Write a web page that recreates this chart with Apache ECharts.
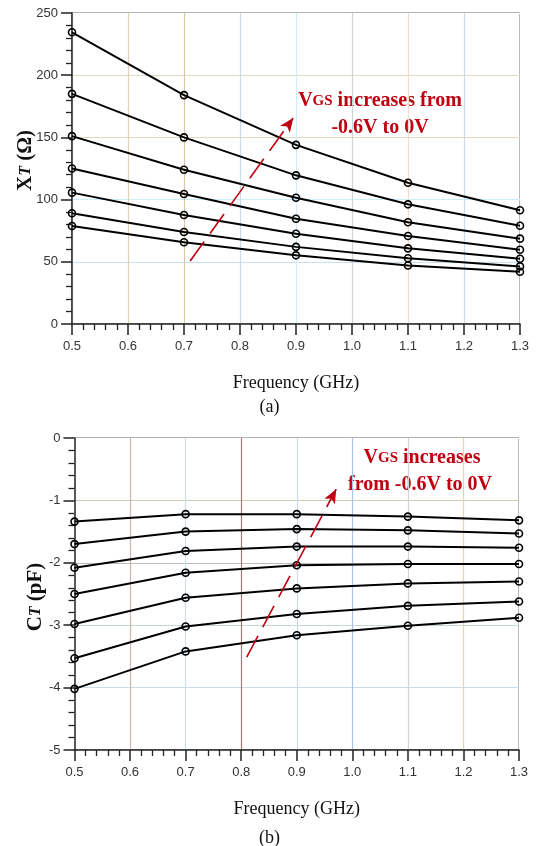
<!DOCTYPE html>
<html>
<head>
<meta charset="utf-8">
<title>XT and CT vs frequency</title>
<script src="https://cdn.jsdelivr.net/npm/echarts@6/dist/echarts.min.js"></script>
<style>
html,body{margin:0;padding:0;background:#fff;}
#chart{width:539px;height:846px;}
</style>
</head>
<body>
<div id="chart"></div>
<script type="text/javascript">
// frequency points (GHz)
var freq = [0.5, 0.7, 0.9, 1.1, 1.3];

// (a) XT in ohm, top curve = VGS 0V ... bottom = -0.6V
var xt1 = [234.5, 184, 144, 113.6, 91.4];
var xt2 = [185, 150, 119.5, 96.2, 79];
var xt3 = [151, 124, 101.5, 81.8, 68.6];
var xt4 = [125, 104.5, 84.6, 70.7, 59.7];
var xt5 = [105.6, 87.6, 72.6, 60.8, 52.5];
var xt6 = [89, 74, 62, 52.8, 46.3];
var xt7 = [78.8, 65.7, 55.2, 47, 42];

// (b) CT in pF
var ct1 = [-1.34, -1.22, -1.22, -1.26, -1.32];
var ct2 = [-1.70, -1.50, -1.46, -1.48, -1.53];
var ct3 = [-2.08, -1.81, -1.74, -1.74, -1.76];
var ct4 = [-2.50, -2.16, -2.04, -2.02, -2.02];
var ct5 = [-2.98, -2.56, -2.41, -2.33, -2.30];
var ct6 = [-3.53, -3.02, -2.82, -2.69, -2.62];
var ct7 = [-4.02, -3.42, -3.16, -3.01, -2.88];

// arrow ends (data coords)
var arrowA = [[0.711, 50.6], [0.895, 165.6]];
var arrowB = [[0.81, -3.51], [0.971, -0.82]];

var red = '#c00010';
var serif = 'Liberation Serif';
var sans = 'Liberation Sans';

function pairs(ys){
    var out = [];
    for(var i=0;i<freq.length;i++) out.push([freq[i], ys[i]]);
    return out;
}

function mkSeries(ys, idx){
    return {
        type:'line',
        xAxisIndex: idx, yAxisIndex: idx,
        data: pairs(ys),
        symbol:'circle', symbolSize:7,
        lineStyle:{color:'#000', width:2},
        itemStyle:{color:'rgba(0,0,0,0)', borderColor:'#000', borderWidth:1.6},
        emphasis:{disabled:true},
        silent:true, z:3
    };
}

function arrowLine(pts){
    return {
        silent:true,
        symbol:['none','arrow'],
        symbolSize:[9,14],
        lineStyle:{color:red, width:1.6, type:[24,10]},
        label:{show:false},
        data:[[{coord:pts[0]},{coord:pts[1]}]]
    };
}

function xAx(gi, vColors){
    return {
        type:'value', gridIndex:gi, min:0.5, max:1.3, interval:0.1,
        axisLine:{show:true, onZero:false, lineStyle:{color:'#222', width:1.5}},
        axisTick:{show:true, length:11, lineStyle:{color:'#222', width:1.5}},
        minorTick:{show:true, splitNumber:5, length:6, lineStyle:{color:'#222', width:1.3}},
        axisLabel:{margin:16, fontFamily:sans, fontSize:13, color:'#333',
                   formatter:function(v){return v.toFixed(1);}},
        splitLine:{show:true, lineStyle:{color:vColors, width:1.2}},
        name:'Frequency (GHz)', nameLocation:'middle', nameGap:50, nameMoveOverlap:false,
        nameTextStyle:{fontFamily:serif, fontSize:18, color:'#111'}
    };
}

function yName(text, gap, pad){
    return {
        name:text, nameLocation:'middle', nameGap:gap, nameRotate:90, nameMoveOverlap:false,
        nameTextStyle:{padding:pad, rich:{
            b:{fontFamily:serif, fontSize:21, fontWeight:'bold', color:'#111'},
            i:{fontFamily:serif, fontSize:16, fontWeight:'bold', fontStyle:'italic', color:'#111'}
        }}
    };
}

var vColA = ['#ffffff','#ddd2b6','#d6c9a4','#c9dcea','#cfeef6','#cdd6d6','#f2dccb','#cadcec','#ffffff'];
var hColA = ['#ffffff','#c8e0ec','#cdeef6','#e0d8c0','#e2dac2','#ffffff'];
var vColB = ['#ffffff','#c6b8b0','#c8e2f2','#a07c74','#c8dcf0','#a8c4e8','#d2d2da','#e8d8a8','#ffffff'];
var hColB = ['#ffffff','#c8dcf0','#c6d8c8','#c2bab2','#cacab2','#ffffff'];

var yA = {
    type:'value', gridIndex:0, min:0, max:250, interval:50,
    axisLine:{show:true, lineStyle:{color:'#222', width:1.5}},
    axisTick:{show:true, length:11, lineStyle:{color:'#222', width:1.5}},
    minorTick:{show:true, splitNumber:5, length:6, lineStyle:{color:'#222', width:1.3}},
    axisLabel:{margin:14, fontFamily:sans, fontSize:13, color:'#333'},
    splitLine:{show:true, lineStyle:{color:hColA, width:1.2}}
};
Object.assign(yA, yName('{b|X}{i|T}{b| (Ω)}', 36, [0,0,0,16]));

var yB = {
    type:'value', gridIndex:1, min:-5, max:0, interval:1,
    axisLine:{show:true, onZero:false, lineStyle:{color:'#222', width:1.5}},
    axisTick:{show:true, length:11, lineStyle:{color:'#222', width:1.5}},
    minorTick:{show:true, splitNumber:5, length:6, lineStyle:{color:'#222', width:1.3}},
    axisLabel:{margin:14, fontFamily:sans, fontSize:13, color:'#333'},
    splitLine:{show:true, lineStyle:{color:hColB, width:1.2}}
};
Object.assign(yB, yName('{b|C}{i|T}{b| (pF)}', 28, [0,6,0,0]));

var option = {
    backgroundColor:'#fff',
    animation:false,
    grid:[
        {left:72, top:13, right:19, height:311, show:true, borderColor:'#666', borderWidth:1, outerBoundsMode:'none'},
        {left:74.5, top:438, right:20, height:312, show:true, borderColor:'#666', borderWidth:1, outerBoundsMode:'none'}
    ],
    xAxis:[ xAx(0, vColA), xAx(1, vColB) ],
    yAxis:[ yA, yB ],
    series:[
        mkSeries(xt1,0), mkSeries(xt2,0), mkSeries(xt3,0), mkSeries(xt4,0),
        mkSeries(xt5,0), mkSeries(xt6,0), mkSeries(xt7,0),
        mkSeries(ct1,1), mkSeries(ct2,1), mkSeries(ct3,1), mkSeries(ct4,1),
        mkSeries(ct5,1), mkSeries(ct6,1), mkSeries(ct7,1),
        {type:'line', xAxisIndex:0, yAxisIndex:0, data:[], markLine:arrowLine(arrowA)},
        {type:'line', xAxisIndex:1, yAxisIndex:1, data:[], markLine:arrowLine(arrowB)}
    ],
    graphic:[
        {type:'text', left:'center', top:398, style:{text:'(a)', font:'18px '+serif, fill:'#111'}},
        {type:'text', left:'center', top:829, style:{text:'(b)', font:'18px '+serif, fill:'#111'}},
        {type:'text', x:380, y:101, style:{text:'{v|V}{s|GS}{v| increases from}', align:'center', verticalAlign:'middle',
            rich:{v:{font:'bold 20px '+serif, fill:red}, s:{font:'bold 15px '+serif, fill:red}}}},
        {type:'text', x:380, y:128, style:{text:'-0.6V to 0V', align:'center', verticalAlign:'middle',
            font:'bold 20px '+serif, fill:red}},
        {type:'text', x:422, y:458, style:{text:'{v|V}{s|GS}{v| increases}', align:'center', verticalAlign:'middle',
            rich:{v:{font:'bold 20px '+serif, fill:red}, s:{font:'bold 15px '+serif, fill:red}}}},
        {type:'text', x:420, y:485, style:{text:'from -0.6V to 0V', align:'center', verticalAlign:'middle',
            font:'bold 20px '+serif, fill:red}}
    ]
};

var myChart = echarts.init(document.getElementById('chart'));
myChart.setOption(option);
</script>
</body>
</html>
